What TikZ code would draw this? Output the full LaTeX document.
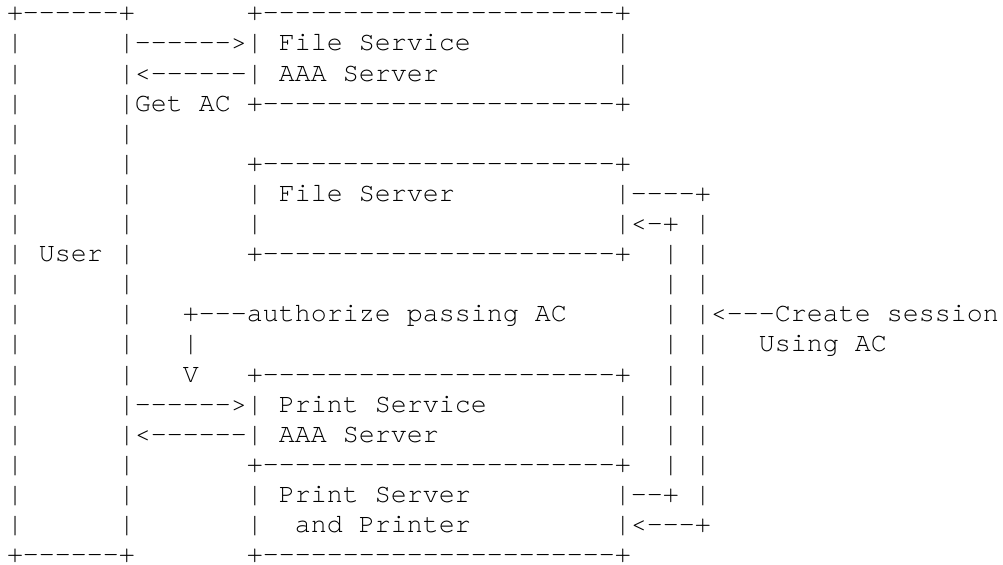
\documentclass[tikz,border=0pt]{standalone}
\usepackage{fontspec}
\setmonofont{texgyrecursor-regular.otf}
\newcommand\cw{8pt}
\newcommand\SP[1]{\hskip#1\dimexpr\cw\relax}
\newcommand\DD{----------------------}
\tikzset{
  ln/.style={anchor=base west, inner sep=0pt, outer sep=0pt,
    font=\ttfamily\fontsize{13.333pt}{15pt}\selectfont}
}
\begin{document}
\begin{tikzpicture}
\fill[white] (0,0) rectangle (501.5pt,-282.5pt);
\useasboundingbox (0,0) rectangle (501.5pt,-282.5pt);
\node[ln] (r1)  at (3.5pt,-10.45pt)  {+------+\SP{7}+\DD+};
\node[ln] (r2)  at (3.5pt,-25.50pt)  {|\SP{6}|------>| File Service\SP{9}|};
\node[ln] (r3)  at (3.5pt,-40.55pt)  {|\SP{6}|<------| AAA Server\SP{11}|};
\node[ln] (r4)  at (3.5pt,-55.60pt)  {|\SP{6}|Get AC +\DD+};
\node[ln] (r5)  at (3.5pt,-70.65pt)  {|\SP{6}|};
\node[ln] (r6)  at (3.5pt,-85.70pt)  {|\SP{6}|\SP{7}+\DD+};
\node[ln] (r7)  at (3.5pt,-100.75pt) {|\SP{6}|\SP{7}| File Server\SP{10}|----+};
\node[ln] (r8)  at (3.5pt,-115.80pt) {|\SP{6}|\SP{7}|\SP{22}|<-+ |};
\node[ln] (r9)  at (3.5pt,-130.85pt) {| User |\SP{7}+\DD+\SP{2}| |};
\node[ln] (r10) at (3.5pt,-145.90pt) {|\SP{6}|\SP{33}| |};
\node[ln] (r11) at (3.5pt,-160.95pt) {|\SP{6}|\SP{3}+---authorize passing AC\SP{6}| |<---Create session};
\node[ln] (r12) at (3.5pt,-176.00pt) {|\SP{6}|\SP{3}|\SP{29}| |\SP{3}Using AC};
\node[ln] (r13) at (3.5pt,-191.05pt) {|\SP{6}|\SP{3}V\SP{3}+\DD+\SP{2}| |};
\node[ln] (r14) at (3.5pt,-206.10pt) {|\SP{6}|------>| Print Service\SP{8}|\SP{2}| |};
\node[ln] (r15) at (3.5pt,-221.15pt) {|\SP{6}|<------| AAA Server\SP{11}|\SP{2}| |};
\node[ln] (r16) at (3.5pt,-236.20pt) {|\SP{6}|\SP{7}+\DD+\SP{2}| |};
\node[ln] (r17) at (3.5pt,-251.25pt) {|\SP{6}|\SP{7}| Print Server\SP{9}|--+ |};
\node[ln] (r18) at (3.5pt,-266.30pt) {|\SP{6}|\SP{7}|\SP{2}and Printer\SP{9}|<---+};
\node[ln] (r19) at (3.5pt,-281.35pt) {+------+\SP{7}+\DD+};
\end{tikzpicture}
\end{document}
